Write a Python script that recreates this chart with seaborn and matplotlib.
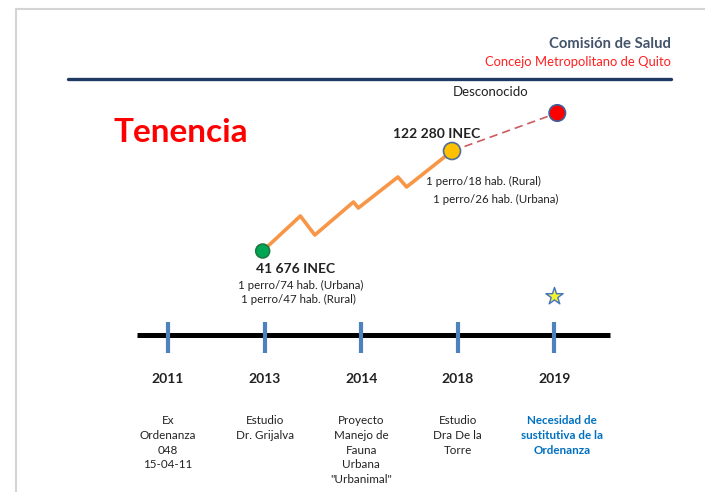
import matplotlib
matplotlib.use('Agg')
import matplotlib.pyplot as plt
from matplotlib.lines import Line2D
import seaborn as sns

# datos de la línea de tiempo
years = ['2011', '2013', '2014', '2018', '2019']
descriptions = ['Ex\nOrdenanza\n048\n15-04-11',
                'Estudio\nDr. Grijalva',
                'Proyecto\nManejo de\nFauna\nUrbana\n"Urbanimal"',
                'Estudio\nDra De la\nTorre',
                'Necesidad de\nsustitutiva de la\nOrdenanza']

# tendencia de tenencia (posición en la línea de tiempo, nivel)
trend_pos = [0.98, 1.37, 1.52, 1.92, 1.97, 2.38, 2.47, 2.94]
trend_level = [241, 276, 257, 290, 284, 315, 305, 341]
future_pos = [2.94, 4.03]
future_level = [341, 379]

point_pos = [0.98, 2.94, 4.03]
point_level = [241, 341, 379]
point_names = ['2013', '2018', '2019']
star_pos = [4.0]
star_level = [196]

W, H = 705, 492
X0, STEP = 168, 96.6


def dx(px):
    return (px - X0) / STEP


def dy(py):
    return H - py


sns.set_style('white')
plt.rcParams['font.family'] = ['Lato', 'DejaVu Sans']

fig = plt.figure(figsize=(W / 100, H / 100), dpi=100)
ax = fig.add_axes([0, 0, 1, 1])
ax.set_xlim(dx(0), dx(W))
ax.set_ylim(0, H)
ax.axis('off')

# marco de la diapositiva
fig.add_artist(Line2D([16 / W, 1], [1 - 9 / H, 1 - 9 / H], color='#d4d4d4', lw=1.5))
fig.add_artist(Line2D([16 / W, 16 / W], [0, 1 - 9 / H], color='#d4d4d4', lw=1.5))

# encabezado
fig.add_artist(Line2D([68 / W, 671 / W], [1 - 79 / H, 1 - 79 / H], color='#1F3864', lw=2.4))
fig.text(671 / W, 1 - 44 / H, 'Comisión de Salud', ha='right', va='center',
         fontsize=10.7, fontweight='bold', color='#44546A')
fig.text(671 / W, 1 - 62 / H, 'Concejo Metropolitano de Quito', ha='right', va='center',
         fontsize=9.4, color='#FF2020')
fig.text(113 / W, 1 - 133 / H, 'Tenencia', ha='left', va='center',
         fontsize=24, fontweight='bold', color='#FF0000')

# línea de tiempo
ticks = list(range(len(years)))
ax.hlines(dy(335), dx(137), dx(610), color='black', lw=3.6, zorder=2)
ax.vlines(ticks, dy(353), dy(322), color='#4F81BD', lw=3, zorder=3)
for i, (yr, desc) in enumerate(zip(years, descriptions)):
    ax.text(i, dy(379), yr, ha='center', va='center', fontsize=10,
            fontweight='bold', color='#222222')
    last = i == len(years) - 1
    ax.text(i + (0.08 if last else 0), dy(415), desc, ha='center', va='top',
            fontsize=8.4, linespacing=1.42,
            color='#0070C0' if last else '#222222',
            fontweight='bold' if last else 'normal')

# tendencia
sns.lineplot(x=trend_pos, y=trend_level, sort=False, color='#F79646', lw=2.6, ax=ax, zorder=4)
sns.lineplot(x=future_pos, y=future_level, sort=False, color='#CC5B5E', lw=1.2,
             linestyle=(0, (5, 3)), ax=ax, zorder=4)
sns.scatterplot(x=point_pos, y=point_level, hue=point_names,
                palette=['#00A651', '#FFC000', '#FF0000'], s=[110], legend=False,
                ax=ax, zorder=5, linewidth=1.2)
ax.collections[-1].set_edgecolors(['#1E7A45', '#4F6E9A', '#3F5F9F'])
ax.collections[-1].set_sizes([100, 150, 140])
sns.scatterplot(x=star_pos, y=star_level, marker='*', s=170, color='#F2F230',
                edgecolor='#4472C4', linewidth=1.0, ax=ax, zorder=5, legend=False)

# etiquetas
ax.text(dx(491), dy(92), 'Desconocido', ha='center', va='center', fontsize=9.5, color='#222222')
ax.text(dx(437), dy(134), '122 280 INEC', ha='center', va='center', fontsize=10,
        fontweight='bold', color='#222222')
ax.text(dx(426), dy(181), '1 perro/18 hab. (Rural)', ha='left', va='center',
        fontsize=8.3, color='#222222')
ax.text(dx(433), dy(199), '1 perro/26 hab. (Urbana)', ha='left', va='center',
        fontsize=8.3, color='#222222')
ax.text(dx(296), dy(269), '41 676 INEC', ha='center', va='center', fontsize=10,
        fontweight='bold', color='#222222')
ax.text(dx(301), dy(285), '1 perro/74 hab. (Urbana)', ha='center', va='center',
        fontsize=8.3, color='#222222')
ax.text(dx(298), dy(299), '1 perro/47 hab. (Rural)', ha='center', va='center',
        fontsize=8.3, color='#222222')

fig.savefig('out.png', dpi=100)
